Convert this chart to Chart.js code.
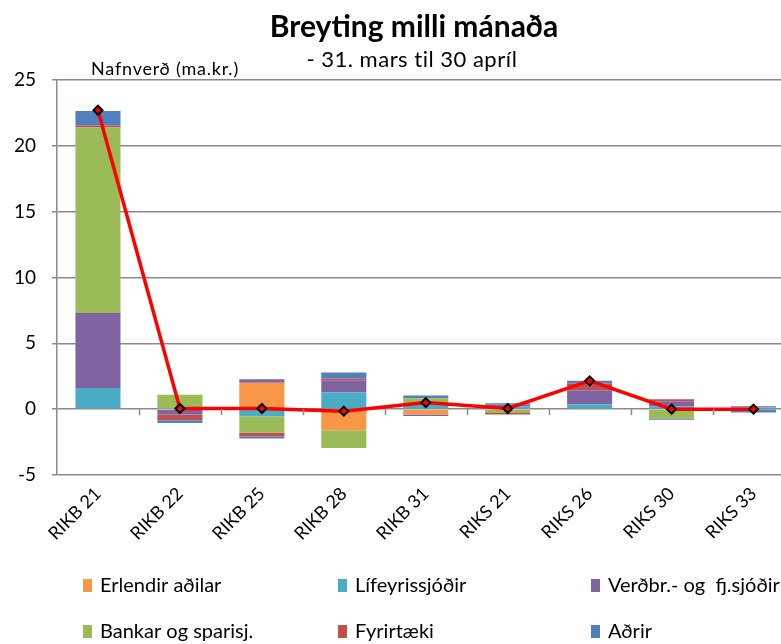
<!DOCTYPE html>
<html>
<head>
<meta charset="utf-8">
<script src="https://cdn.jsdelivr.net/npm/chart.js@4/dist/chart.umd.min.js"></script>
<style>
  html, body { margin: 0; padding: 0; background: #fff; }
  #wrap { position: relative; width: 781px; height: 644px; overflow: hidden; }
</style>
</head>
<body>
<div id="wrap"><canvas id="c" width="801" height="644"></canvas></div>
<script>
// Flokkar (skuldabréfaflokkar)
const categories = ['RIKB 21', 'RIKB 22', 'RIKB 25', 'RIKB 28', 'RIKB 31', 'RIKS 21', 'RIKS 26', 'RIKS 30', 'RIKS 33'];

// Breyting eftir eigendahópum, ma.kr.
const erlendir     = [0,     0,     2.0,   -1.6,  -0.4,  0,     0,     0,     0];
const lifeyris     = [1.6,   0,     -0.53, 1.27,  0.4,   0.2,   0.36,  0.2,   0.13];
const verdbr       = [5.7,   -0.4,  0.28,  0.93,  -0.12, 0.15,  1.08,  0.4,   0.1];
const bankar       = [14.1,  1.1,   -1.27, -1.35, 0.43,  -0.3,  0,     -0.7,  0];
const fyrirtaeki   = [0.15,  -0.45, -0.27, 0.13,  0,     -0.1,  0.5,   0.15,  -0.05];
const adrir        = [1.1,   -0.2,  -0.15, 0.46,  0.2,   0.1,   0.22,  -0.1,  -0.2];

// Heildarbreyting
const samtals      = [22.7,  0.05,  0.05,  -0.15, 0.5,   0.05,  2.15,  0.0,   0.0];

// Ás
const yMin = -5, yMax = 25, yStep = 5;

const FONT = "Lato, 'Liberation Sans', sans-serif";

const seriesDefs = [
  { label: 'Erlendir aðilar',        data: erlendir,   color: '#F79646' },
  { label: 'Lífeyrissjóðir',         data: lifeyris,   color: '#4BACC6' },
  { label: 'Verðbr.- og  fj.sjóðir', data: verdbr,     color: '#8064A2' },
  { label: 'Bankar og sparisj.',     data: bankar,     color: '#9BBB59' },
  { label: 'Fyrirtæki',              data: fyrirtaeki, color: '#C0504D' },
  { label: 'Aðrir',                  data: adrir,      color: '#4F81BD' }
];

const barSets = seriesDefs.map(s => ({
  type: 'bar',
  label: s.label,
  data: s.data,
  backgroundColor: s.color,
  borderWidth: 0,
  stack: 'eig',
  order: 1,
  categoryPercentage: 1.0,
  barPercentage: 0.55
}));

const lineSet = {
  type: 'line',
  label: 'Samtals',
  data: samtals,
  borderColor: '#FF0000',
  borderWidth: 3.5,
  pointStyle: 'rectRot',
  pointRadius: 4.5,
  pointBackgroundColor: '#FF0000',
  pointBorderColor: '#000000',
  pointBorderWidth: 2,
  tension: 0,
  order: 0
};

// Titlar og skýringar teiknaðar á strigann
const textPlugin = {
  id: 'texts',
  afterDraw(chart) {
    const ctx = chart.ctx;
    ctx.save();
    ctx.fillStyle = '#000';
    ctx.textBaseline = 'middle';
    ctx.textAlign = 'center';
    ctx.font = "bold 30px " + FONT;
    ctx.fillText('Breyting milli mánaða', 414, 27);
    ctx.font = "22px " + FONT;
    ctx.letterSpacing = '0.5px';
    ctx.fillText('- 31. mars til 30 apríl', 412, 60);
    ctx.textAlign = 'left';
    ctx.font = "18px " + FONT;
    ctx.letterSpacing = '0.8px';
    ctx.fillText('Nafnverð (ma.kr.)', 91, 69);
    ctx.letterSpacing = '0px';

    // skýringar í þremur dálkum
    const cols = [83, 338, 591];
    const rows = [586, 632];
    ctx.font = "20px " + FONT;
    seriesDefs.forEach((s, i) => {
      const x = cols[i % 3], y = rows[Math.floor(i / 3)];
      ctx.fillStyle = s.color;
      ctx.fillRect(x, y - 7, 9, 13);
      ctx.fillStyle = '#000';
      ctx.fillText(s.label, x + 17, y);
    });
    ctx.restore();
  }
};

// Litlar merkingar milli flokka á núll-línunni
const zeroTicks = {
  id: 'zeroTicks',
  afterDatasetsDraw(chart) {
    const x = chart.scales.x, y = chart.scales.y;
    const y0 = y.getPixelForValue(0);
    const w = (x.right - x.left) / categories.length;
    const ctx = chart.ctx;
    ctx.save();
    ctx.strokeStyle = '#888';
    ctx.lineWidth = 1.5;
    for (let i = 1; i < categories.length; i++) {
      const px = Math.round(x.left + w * i) + 0.5;
      ctx.beginPath();
      ctx.moveTo(px, y0);
      ctx.lineTo(px, y0 + 6);
      ctx.stroke();
    }
    ctx.restore();
  }
};

new Chart(document.getElementById('c'), {
  data: { labels: categories, datasets: [...barSets, lineSet] },
  options: {
    responsive: false,
    animation: false,
    layout: { padding: { top: 80, right: 0, bottom: 0, left: 0 } },
    plugins: {
      legend: { display: false },
      title: { display: false },
      tooltip: { enabled: false }
    },
    scales: {
      x: {
        stacked: true,
        offset: true,
        grid: { display: false, drawTicks: false },
        border: { display: false },
        ticks: {
          minRotation: 45, maxRotation: 45,
          color: '#000',
          padding: 8,
          font: { family: FONT, size: 18 }
        },
        afterFit(scale) {
          scale.height = 169;
          scale.paddingRight = 0;
          scale.paddingLeft = 0;
        }
      },
      y: {
        stacked: true,
        min: yMin, max: yMax,
        ticks: {
          stepSize: yStep,
          color: '#000',
          padding: 16,
          font: { family: FONT, size: 19 }
        },
        grid: { color: '#8a8a8a', lineWidth: 1.5, tickLength: 5, tickColor: '#8a8a8a' },
        border: { display: true, color: '#8a8a8a', width: 1.5 },
        afterFit(scale) { scale.width = 57; }
      }
    }
  },
  plugins: [textPlugin, zeroTicks]
});
</script>
</body>
</html>
